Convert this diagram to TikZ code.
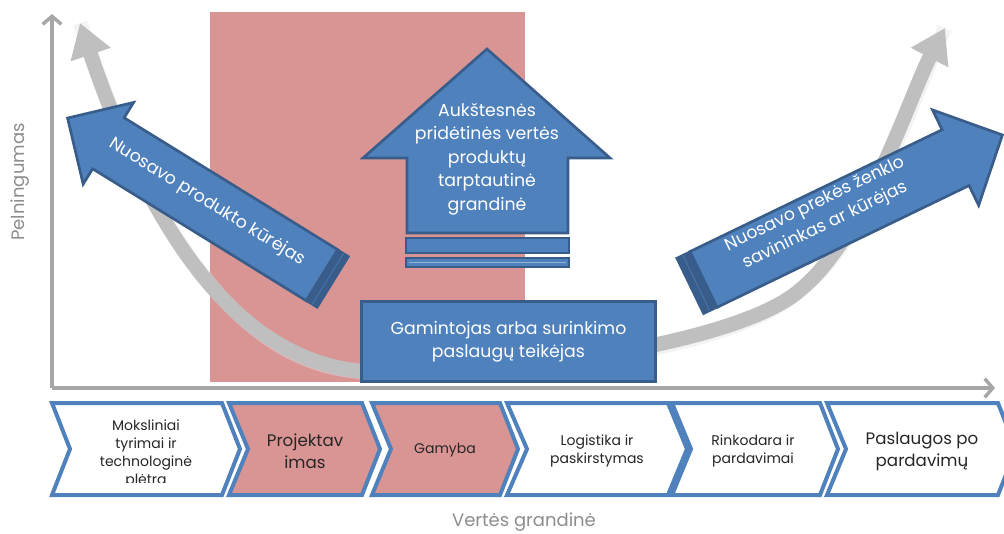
\documentclass[tikz,border=0pt]{standalone}
\usepackage{fontspec}
\setmainfont{Poppins}
\usetikzlibrary{arrows.meta}
\definecolor{pinkc}{HTML}{D99594}
\definecolor{bluec}{HTML}{4F81BD}
\definecolor{blued}{HTML}{385D8A}
\definecolor{grayax}{HTML}{A6A6A6}
\definecolor{graycurve}{HTML}{BFBFBF}
\definecolor{txtdark}{HTML}{262626}
\begin{document}
\begin{tikzpicture}[x=0.75pt,y=-0.75pt,
  axisline/.style={draw=grayax,line width=3pt,-{Straight Barb[length=6pt,width=14pt,line width=2.6pt]}},
  curveline/.style={draw=graycurve,line width=11pt},
  bluearrow/.style={fill=bluec,draw=blued,line width=2pt,line join=miter},
  bandfill/.style={fill=blued,draw=blued,line width=1.5pt},
  whitetxt/.style={text=white,align=center,inner sep=0pt},
  bigtxt/.style={font=\fontsize{13}{17.6}\selectfont},
  chev/.style={draw=bluec,line width=3pt,line join=miter},
  chevtxt/.style={text=txtdark,align=center,inner sep=0pt,font=\fontsize{10.5}{13.6}\selectfont},
  chevbig/.style={text=txtdark,align=center,inner sep=0pt,font=\fontsize{12.5}{16.5}\selectfont},
  axtxt/.style={text=grayax!85!black,inner sep=0pt,font=\fontsize{13.5}{16}\selectfont}]
\useasboundingbox (0,0) rectangle (1004,533);

% pink background
\fill[pinkc] (210,12) rectangle (525,382);

% axes
\coordinate (O) at (52,388);
\coordinate (Ytop) at (52,14);
\coordinate (Xend) at (995,388);
\draw[axisline] (O) -- (Ytop);
\draw[axisline] (O) -- (Xend);
\node[axtxt,rotate=90] (ylab) at (20,182) {Pelningumas};
\node[axtxt] (xlab) at (524,522) {Vertės grandinė};

% gray curve
\coordinate (Lc) at (80,23);
\coordinate (Mc) at (380,372);
\coordinate (Kc) at (800,290);
\coordinate (Rc) at (945,28);
\draw[draw=black!10,line width=11pt,opacity=0.45,shift={(2,4)}]
  (Lc) .. controls (150,230) and (240,372) .. (Mc)
  .. controls (560,372) and (748,336) .. (Kc)
  .. controls (866,236) and (910,95) .. (Rc);
\draw[curveline,{Triangle[width=30pt,length=25pt]}-{Triangle[width=30pt,length=25pt]}]
  (Lc) .. controls (150,230) and (240,372) .. (Mc)
  .. controls (560,372) and (748,336) .. (Kc)
  .. controls (866,236) and (910,95) .. (Rc);

% left blue arrow
\begin{scope}[shift={(333,282)},rotate=148.3]
  \draw[bandfill] (0,-30) rectangle (13,30);
  \draw[draw=bluec!70!blued,line width=0.6pt] (6,-30) -- (6,30);
  \draw[bluearrow] (13,-30) -- (264,-30) -- (264,-48) -- (312,0) -- (264,48) -- (264,30) -- (13,30) -- cycle;
\end{scope}
\node[whitetxt,bigtxt,rotate=-31.7] (ltxt) at (207,202) {Nuosavo produkto kūrėjas};

% right blue arrow
\begin{scope}[shift={(690,286)},rotate=25.8]
  \draw[bandfill] (0,-31) rectangle (15,31);
  \draw[draw=bluec!70!blued,line width=0.6pt] (7,-31) -- (7,31);
  \draw[bluearrow] (15,-31) -- (295,-31) -- (295,-53) -- (347,0) -- (295,53) -- (295,31) -- (15,31) -- cycle;
\end{scope}
\node[whitetxt,bigtxt,rotate=25.8] (rtxt) at (820,215) {Nuosavo prekės ženklo\\savininkas ar kūrėjas};

% up arrow
\draw[bluearrow] (407,233) -- (407,158) -- (363,158) -- (487,49) -- (610,158) -- (568,158) -- (568,233) -- cycle;
\draw[bluearrow] (406,238) rectangle (569,253);
\draw[bluearrow] (406,258) rectangle (569,267);
\draw[draw=bluec!60!white,line width=0.6pt] (409,262.5) -- (566,262.5);
\node[whitetxt,bigtxt] (utxt) at (487,159) {Aukštesnės\\pridėtinės vertės\\produktų\\tarptautinė\\grandinė};

% manufacturer box
\node[fill=bluec,draw=blued,line width=2.2pt,minimum width=220pt,minimum height=60.5pt,
  whitetxt,bigtxt] (gam) at (508.5,341.5) {Gamintojas arba surinkimo\\paslaugų teikėjas};

% chevrons
\draw[chev,fill=white] (52,403) -- (222,403) -- (240,449) -- (222,495) -- (52,495) -- (70,449) -- cycle;
\draw[chev,fill=pinkc] (229,403) -- (362,403) -- (380,449) -- (362,495) -- (229,495) -- (248,449) -- cycle;
\draw[chev,fill=pinkc] (372,403) -- (500,403) -- (518,449) -- (500,495) -- (372,495) -- (391,449) -- cycle;
\draw[chev,fill=white] (507,403) -- (668,403) -- (687,449) -- (668,495) -- (507,495) -- (527,449) -- cycle;
\draw[chev,fill=white] (672,403) -- (820,403) -- (838,449) -- (820,495) -- (672,495) -- (691,449) -- cycle;
\draw[chev,fill=white] (827,403) -- (998,403) -- (1016,449) -- (998,495) -- (827,495) -- (846,449) -- cycle;

\begin{scope}
  \clip (60,405) rectangle (240,482);
  \node[chevtxt] (c1) at (146,454) {Moksliniai\\tyrimai ir\\technologinė\\plėtra};
\end{scope}
\node[chevbig] (c2) at (305,451) {Projektav\\imas};
\node[chevtxt] (c3) at (445,450) {Gamyba};
\node[chevtxt] (c4) at (597,451) {Logistika ir\\paskirstymas};
\node[chevtxt] (c5) at (753,451) {Rinkodara ir\\pardavimai};
\node[chevbig] (c6) at (922,451) {Paslaugos po\\pardavimų};
\end{tikzpicture}
\end{document}
